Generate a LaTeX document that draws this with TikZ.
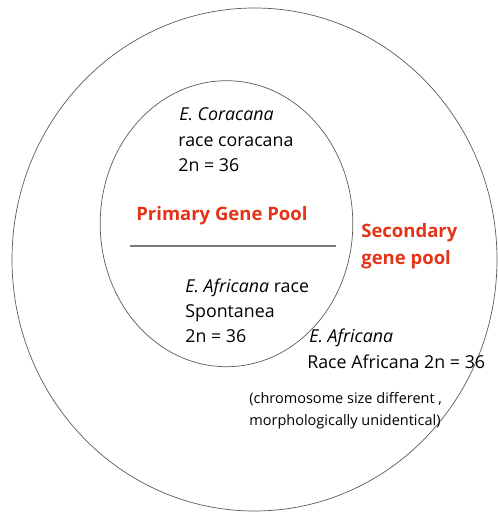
\documentclass[tikz,border=0pt]{standalone}
\usepackage{fontspec}
\setmainfont{Open Sans}
\usetikzlibrary{positioning}
\definecolor{poolred}{RGB}{228,52,24}
\definecolor{ringgray}{RGB}{90,90,90}

\begin{document}
\begin{tikzpicture}[x=1pt, y=-1pt, line width=0.7pt,
    lbl/.style={anchor=base west, inner sep=0pt, font=\fontsize{17.8}{21}\selectfont},
    note/.style={anchor=base west, inner sep=0pt, font=\fontsize{14.5}{17}\selectfont},
    pool/.style={anchor=base west, inner sep=0pt, text=poolred,
                 font=\fontsize{18.5}{22}\selectfont\bfseries}]
    \useasboundingbox (0,0) rectangle (498,512);
    % secondary and primary pool
    \draw[ringgray] (254.5,259.5) ellipse [x radius=242.5pt, y radius=251.5pt];
    \draw[ringgray] (226.5,223.7) ellipse [x radius=126.3pt, y radius=143pt];
    \draw[ringgray!80, line width=1.3pt] (130,246) -- (336,246);
    % pool names
    \node[pool] (primary) at (136,220) {Primary Gene Pool};
    \node[pool] (second) at (361,237) {Secondary};
    \node[pool] (secondb) at (361,264) {gene pool};
    % species in each pool
    \foreach \n/\x/\y/\txt in {
        cor1/179/120/{\itshape E. Coracana},
        cor2/178/146/{race coracana},
        cor3/178/171/{2n = 36},
        spo1/185/292/{\itshape E. Africana\upshape\ race},
        spo2/185/317/{Spontanea},
        spo3/185/342/{2n = 36},
        afr1/309/342/{\itshape E. Africana},
        afr2/307/368/{Race Africana 2n = 36}}
    {
        \node[lbl] (\n) at (\x,\y) {\txt};
    }
    \node[note] (size) at (249,403) {(chromosome size different ,};
    \node[note] (morph) at (249,425) {morphologically unidentical)};
\end{tikzpicture}
\end{document}
